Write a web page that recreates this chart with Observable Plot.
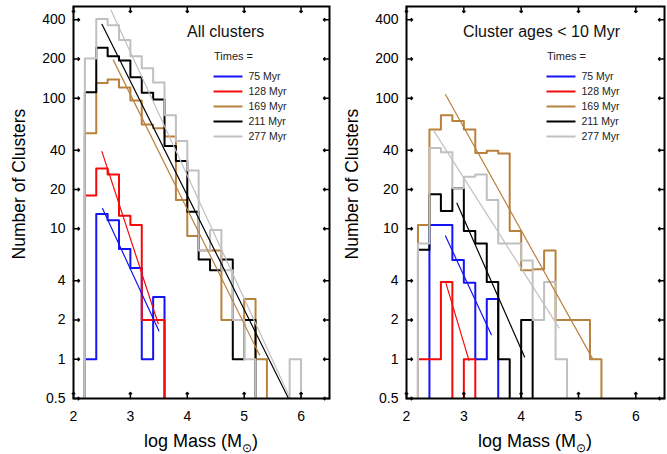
<!DOCTYPE html>
<html><head><meta charset="utf-8">
<script src="https://cdn.jsdelivr.net/npm/d3@7"></script>
<script src="https://cdn.jsdelivr.net/npm/@observablehq/plot@0.6"></script>
<style>
body{margin:0;background:#fff}
#row{display:flex;width:667px;height:454px;overflow:hidden}
svg{display:block}
</style>
</head><body><div id="row"></div>
<script>
// ---- data ----
const binStarts = [2.2,2.4,2.6,2.8,3.0,3.2,3.4,3.6,3.8,4.0,4.2,4.4,4.6,4.8,5.0,5.2,5.4,5.6,5.8];
const binWidth = 0.2;
const seriesNames = ["75 Myr","128 Myr","169 Myr","211 Myr","277 Myr"];
const seriesColors = ["#1414f5","#f50a0a","#b8823e","#000000","#c0c0c0"];
const xTicks = [2,3,4,5,6];
const yTicks = [0.5,1,2,4,10,20,40,100,200,400];
const panelTitles = ["All clusters","Cluster ages < 10 Myr"];

// left panel: all clusters (counts per 0.2 dex bin starting at 2.2)
const allBlue  = [1,13,11.6,7,5,1,3];
const allRed   = [18,29,26,12.6,10.7,2,2];
const allTan   = [54,131,139,121,96,63,59,51,16.6,8.8,6.8,6.8,2,2,2.9,1];
const allBlack = [111,244,210,195,145,110,98,43,33,13.5,5.8,4.8,5.8,1,2];
const allGray  = [202,405,362,280,210,170,132,74,47,28,6.8,9.8,4.8,2,1,0,0,0,1];
// right panel: clusters younger than 10 Myr
const youngBlue  = [0,10.7,10.7,5.75,3.86,1,2.9];
const youngRed   = [1,1,3.9,0,1];
const youngTan   = [10.7,57.5,74,67,57.5,38,39.6,37.8,9.6,4.8,4.9,6.8,2,2,2,1];
const youngBlack = [6.9,18.4,13.7,20.4,9.6,7.7,3.9,1,0,2];
const youngGray  = [7.7,41.5,38.5,20.4,25,26,16.6,7.7,7.7,5.7,2,3.9,1];

// fitted power-law lines: [[logM start, N start],[logM end, N end]]
const allFitBlue  = [[2.51,14.3],[3.50,1.65]];
const allFitRed   = [[2.50,39],[3.49,1.87]];
const allFitTan   = [[2.70,196],[5.27,1.08]];
const allFitBlack = [[2.50,369],[5.78,0.5]];
const allFitGray  = [[2.66,473],[5.81,0.5]];
const youngFitBlue  = [[2.68,8.8],[3.48,1.54]];
const youngFitRed   = [[2.69,3.8],[3.09,0.98]];
const youngFitTan   = [[2.68,107],[5.24,1.02]];
const youngFitBlack = [[2.88,15.7],[4.06,1.04]];
const youngFitGray  = [[2.48,56],[4.66,1.74]];

// ---- build ----
const LOW = 0.2;
const xDomain = [2, 6.5];
const yDomain = [0.5, 505];
const FONT = "'Liberation Sans', Arial, Helvetica, sans-serif";

function steps(counts, name) {
  let first = 0; while (first < counts.length && !(counts[first] > 0)) first++;
  let last = counts.length - 1; while (last >= 0 && !(counts[last] > 0)) last--;
  const pts = [{x: binStarts[first], y: LOW, s: name}];
  for (let i = first; i <= last; i++) pts.push({x: binStarts[i], y: counts[i] > 0 ? counts[i] : LOW, s: name});
  pts.push({x: binStarts[last] + binWidth, y: LOW, s: name});
  return pts;
}
function fit(line, name) {
  return line.map(([x, y]) => ({x, y, s: name}));
}

function panel(hists, fits, title, opts) {
  const histData = hists.flatMap((c, i) => steps(c, seriesNames[i]));
  const fitData = fits.flatMap((f, i) => fit(f, seriesNames[i]));
  const p = Plot.plot({
    width: opts.width, height: 454,
    marginLeft: opts.ml, marginRight: opts.mr, marginTop: 6, marginBottom: 56,
    style: {fontFamily: FONT, fontSize: "14px", background: "#fff", color: "#000"},
    x: {type: "linear", domain: xDomain, axis: null},
    y: {type: "log", domain: yDomain, axis: null},
    color: {domain: seriesNames, range: seriesColors},
    marks: [
      Plot.line(histData, {x: "x", y: "y", z: "s", stroke: "s", curve: "step-after", strokeWidth: 2, clip: true}),
      Plot.line(fitData, {x: "x", y: "y", z: "s", stroke: "s", strokeWidth: 1.2, clip: true}),
      Plot.text(xTicks, {x: d => d, y: yDomain[0], text: d => String(d), dy: 18, fontSize: 14, lineAnchor: "middle", fill: "#000"}),
      Plot.text(yTicks, {x: xDomain[0], y: d => d, text: d => String(d), dx: -8, textAnchor: "end", fontSize: 14, lineAnchor: "middle", fill: "#000"}),
      Plot.vector(xTicks, {x: d => d, y: yDomain[0], length: 6, rotate: 0, anchor: "start", stroke: "#000", strokeWidth: 1.5}),
      Plot.vector(xTicks, {x: d => d, y: yDomain[1], length: 6, rotate: 180, anchor: "start", stroke: "#000", strokeWidth: 1.5}),
      Plot.vector(yTicks, {x: xDomain[0], y: d => d, length: 6, rotate: 90, anchor: "start", stroke: "#000", strokeWidth: 1.5}),
      Plot.vector(yTicks, {x: xDomain[1], y: d => d, length: 6, rotate: 270, anchor: "start", stroke: "#000", strokeWidth: 1.5}),
      Plot.frame({stroke: "#000", strokeWidth: 2})
    ]
  });
  const svg = d3.select(p);
  const fl = opts.ml, fr = opts.width - opts.mr;
  // title
  svg.append("text").attr("x", fl + opts.titleDx).attr("y", 36.5).attr("text-anchor", "start")
    .attr("font-size", 16).attr("font-family", FONT).attr("fill", "#111").text(title);
  // legend
  const lg = svg.append("g").attr("font-family", FONT).attr("fill", "#222").attr("text-anchor", "start");
  lg.append("text").attr("x", fl + 141).attr("y", 59.5).attr("font-size", 11).text("Times =");
  seriesNames.forEach((n, i) => {
    const y = 76.5 + i * 15;
    lg.append("line").attr("x1", fl + 140.5).attr("x2", fl + 169.5).attr("y1", y).attr("y2", y)
      .attr("stroke", seriesColors[i]).attr("stroke-width", 2);
    lg.append("text").attr("x", fl + 175.5).attr("y", y + 3.8).attr("font-size", 10.5).text(n);
  });
  // y axis label
  svg.append("text").attr("transform", `translate(${opts.ylx},184) rotate(-90)`)
    .attr("text-anchor", "middle").attr("dy", "0.35em").attr("font-size", 17.5)
    .attr("font-family", FONT).attr("fill", "#000").text("Number of Clusters");
  // x axis label
  const xl = svg.append("text").attr("x", (fl + fr) / 2).attr("y", 447).attr("text-anchor", "middle")
    .attr("font-size", 18).attr("font-family", FONT).attr("fill", "#000");
  xl.append("tspan").text("log Mass (M");
  xl.append("tspan").attr("font-size", 12).attr("dy", 5).text("\u2299");
  xl.append("tspan").attr("dy", -5).text(")");
  return p;
}

const row = document.getElementById("row");
row.appendChild(panel([allBlue, allRed, allTan, allBlack, allGray],
  [allFitBlue, allFitRed, allFitTan, allFitBlack, allFitGray], panelTitles[0],
  {width: 333, ml: 73, mr: 4, titleDx: 114, ylx: 18.5}));
row.appendChild(panel([youngBlue, youngRed, youngTan, youngBlack, youngGray],
  [youngFitBlue, youngFitRed, youngFitTan, youngFitBlack, youngFitGray], panelTitles[1],
  {width: 334, ml: 73, mr: 3, titleDx: 57, ylx: 19}));
</script>
</body></html>
